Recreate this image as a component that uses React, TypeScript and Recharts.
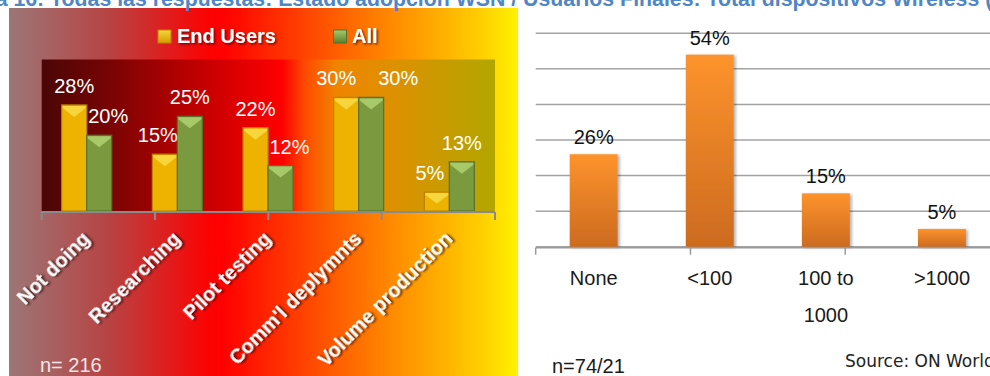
import { BarChart, Bar, XAxis, YAxis, CartesianGrid, LabelList } from "recharts";

// left chart: adoption stage, end users vs all respondents (%)
const stages = ["Not doing", "Researching", "Pilot testing", "Comm'l deplymnts", "Volume production"];
const endUsers = [28, 15, 22, 30, 5];
const allResp = [20, 25, 12, 30, 13];
const seriesNames = ["End Users", "All"];

// right chart: number of wireless devices (%)
const buckets = ["None", "<100", "100 to 1000", ">1000"];
const bucketShare = [26, 54, 15, 5];
const shareTicks = [0, 10, 20, 30, 40, 50, 60];

const FONT = '"Liberation Sans", Arial, Helvetica, sans-serif';

const adoption = stages.map((stage, i) => ({ stage, endUsers: endUsers[i], all: allResp[i] }));
const devices = buckets.map((bucket, i) => ({ bucket, share: bucketShare[i] }));
// tick marks sit between categories (Excel style), so a numeric axis gives the edges
const stageEdges = [...stages.keys(), stages.length];
const bucketEdges = [...buckets.keys(), buckets.length];

const pct = (v: any) => `${v}%`;

function BevelBar(props: any) {
  const { x, y, width, height, face, light, edge } = props;
  if (!height || height <= 0) return null;
  const b = Math.min(10, height / 2);
  return (
    <g>
      <rect x={x} y={y} width={width} height={height} fill={face} stroke={edge} strokeWidth={1.2} />
      <polygon
        points={`${x + 1},${y + 1} ${x + width - 1},${y + 1} ${x + width - 1},${y + 3} ${x + width / 2},${y + b + 2} ${x + 1},${y + 3}`}
        fill={light}
      />
    </g>
  );
}

// labels of a pair get pushed apart when they would collide (lower one moves outward)
const pairLabel = (own: number[], other: number[], side: -1 | 1) => (props: any) => {
  const box = props.viewBox ?? props;
  const i = props.index;
  const a = own[i];
  const b = other[i];
  let shift = 0;
  if (Math.abs(a - b) <= 1) shift = side < 0 ? -10 : 27;
  else if (a < b) shift = side < 0 ? -7 : 9;
  return (
    <text
      x={box.x + box.width / 2 + shift}
      y={box.y - 12}
      textAnchor="middle"
      fill="#fff"
      fontSize={20}
      fontFamily={FONT}
    >
      {pct(a)}
    </text>
  );
};

function StageTick({ x, y, payload }: any) {
  return (
    <text
      x={0}
      y={0}
      transform={`translate(${x + 4},${y + 29}) rotate(-45)`}
      textAnchor="end"
      fill="#fff"
      fontSize={20}
      fontWeight="bold"
      fontFamily={FONT}
      filter="url(#txtShadow)"
    >
      {payload.value}
    </text>
  );
}

function BucketTick({ x, y, payload }: any) {
  const words = String(payload.value).split(" ");
  const lines = words.length > 2 ? [words.slice(0, -1).join(" "), words[words.length - 1]] : [words.join(" ")];
  return (
    <text x={x} y={y + 38} textAnchor="middle" fill="#1a1a1a" fontSize={20} fontFamily={FONT}>
      {lines.map((l, i) => (
        <tspan key={i} x={x} dy={i === 0 ? 0 : 37}>
          {l}
        </tspan>
      ))}
    </text>
  );
}

export default function App() {
  return (
    <div
      style={{
        position: "absolute",
        left: 0,
        top: 0,
        width: 990,
        height: 376,
        overflow: "hidden",
        background: "#fff",
        fontFamily: FONT,
      }}
    >
      <div
        style={{
          position: "absolute",
          left: 9,
          top: 8,
          width: 509,
          height: 368,
          background:
            "linear-gradient(to right, #9c7676 0%, #b84242 20%, #fb0303 39%, #ff0000 42%, #ff5800 63%, #ff8200 73%, #ffa800 83%, #ffd000 93%, #fff200 100%)",
        }}
      >
        <BarChart
          width={509}
          height={368}
          data={adoption}
          margin={{ top: 51.5, right: 23, bottom: 163, left: 32.7 }}
          barGap={0}
        >
          <defs>
            <linearGradient id="plotBg" x1="0" y1="0" x2="1" y2="0">
              <stop offset="0" stopColor="#4a0606" />
              <stop offset="0.13" stopColor="#720404" />
              <stop offset="0.35" stopColor="#c20000" />
              <stop offset="0.53" stopColor="#ff0000" />
              <stop offset="0.58" stopColor="#ff4a00" />
              <stop offset="0.65" stopColor="#f08400" />
              <stop offset="0.8" stopColor="#d99300" />
              <stop offset="1" stopColor="#b2a600" />
            </linearGradient>
            <filter id="txtShadow" x="-20%" y="-40%" width="140%" height="180%">
              <feDropShadow dx="1.5" dy="1.8" stdDeviation="1.1" floodColor="#2a0000" floodOpacity="0.8" />
            </filter>
          </defs>
          <CartesianGrid fill="url(#plotBg)" horizontal={false} vertical={false} stroke="none" />
          <XAxis
            xAxisId="edge"
            type="number"
            domain={[0, stages.length]}
            ticks={stageEdges}
            allowDataOverflow
            height={1}
            tickSize={8}
            tickFormatter={() => ""}
            axisLine={{ stroke: "#8a8a8a", strokeWidth: 2 }}
            tickLine={{ stroke: "#8a8a8a", strokeWidth: 2 }}
          />
          <XAxis
            dataKey="stage"
            height={1}
            interval={0}
            axisLine={false}
            tickLine={false}
            tickSize={0}
            tickMargin={0}
            tick={<StageTick />}
          />
          <YAxis hide domain={[0, 40]} />
          <Bar
            dataKey="endUsers"
            name={seriesNames[0]}
            barSize={25}
            isAnimationActive={false}
            shape={(p: any) => <BevelBar {...p} face="#eeb200" light="#f7d53c" edge="#b98400" />}
          >
            <LabelList dataKey="endUsers" content={pairLabel(endUsers, allResp, -1)} />
          </Bar>
          <Bar
            dataKey="all"
            name={seriesNames[1]}
            barSize={25}
            isAnimationActive={false}
            shape={(p: any) => <BevelBar {...p} face="#7b9a3f" light="#a8c96a" edge="#55722a" />}
          >
            <LabelList dataKey="all" content={pairLabel(allResp, endUsers, 1)} />
          </Bar>
        </BarChart>
      </div>

      <div style={{ position: "absolute", left: 520, top: 0 }}>
        <BarChart
          width={490}
          height={376}
          data={devices}
          margin={{ top: 33.3, right: 10, bottom: 127.3, left: 15.7 }}
        >
          <defs>
            <linearGradient id="orangeBar" x1="0" y1="0" x2="0" y2="1">
              <stop offset="0" stopColor="#fd932d" />
              <stop offset="1" stopColor="#cd6b1f" />
            </linearGradient>
            <filter id="barShadow" x="-20%" y="-10%" width="150%" height="130%">
              <feDropShadow dx="2" dy="1" stdDeviation="1.5" floodColor="#000" floodOpacity="0.3" />
            </filter>
          </defs>
          <CartesianGrid
            horizontal
            vertical={false}
            horizontalValues={shareTicks}
            stroke="#a3a3a3"
            strokeWidth={1.5}
          />
          <XAxis
            xAxisId="edge"
            type="number"
            domain={[0, buckets.length]}
            ticks={bucketEdges}
            allowDataOverflow
            height={1}
            tickSize={7}
            tickFormatter={() => ""}
            axisLine={{ stroke: "#9a9a9a", strokeWidth: 1.5 }}
            tickLine={{ stroke: "#9a9a9a", strokeWidth: 1.5 }}
          />
          <XAxis
            dataKey="bucket"
            height={1}
            interval={0}
            axisLine={false}
            tickLine={false}
            tickSize={0}
            tickMargin={0}
            tick={<BucketTick />}
          />
          <YAxis hide domain={[0, 60]} ticks={shareTicks} />
          <Bar
            dataKey="share"
            barSize={48}
            isAnimationActive={false}
            shape={(p: any) => (
              <rect x={p.x} y={p.y} width={p.width} height={p.height} fill="url(#orangeBar)" filter="url(#barShadow)" />
            )}
          >
            <LabelList dataKey="share" position="top" offset={10} fill="#111" fontSize={20} fontFamily={FONT} formatter={pct} />
          </Bar>
        </BarChart>
      </div>

      <svg width={990} height={376} style={{ position: "absolute", left: 0, top: 0, pointerEvents: "none" }}>
        <defs>
          <linearGradient id="keyYellow" x1="0" y1="0" x2="0" y2="1">
            <stop offset="0" stopColor="#f7d53c" />
            <stop offset="1" stopColor="#d89a00" />
          </linearGradient>
          <linearGradient id="keyGreen" x1="0" y1="0" x2="0" y2="1">
            <stop offset="0" stopColor="#a8c96a" />
            <stop offset="1" stopColor="#5f7e2e" />
          </linearGradient>
          <filter id="keyShadow" x="-20%" y="-40%" width="140%" height="180%">
            <feDropShadow dx="1.5" dy="1.5" stdDeviation="1" floodColor="#3a0000" floodOpacity="0.7" />
          </filter>
        </defs>
        <text x={-57.6} y={6} fill="#4f86c6" fontSize={21.3} fontWeight="bold" fontFamily={FONT}>
          Figura 16: Todas las respuestas: Estado adopción WSN / Usuarios Finales: Total dispositivos Wireless (
        </text>
        <rect x={158} y={30} width={13} height={13} fill="url(#keyYellow)" stroke="#b98400" />
        <text x={177} y={43} fill="#fff" fontSize={20} fontWeight="bold" fontFamily={FONT} filter="url(#keyShadow)">
          {seriesNames[0]}
        </text>
        <rect x={333.5} y={30} width={13} height={13} fill="url(#keyGreen)" stroke="#55722a" />
        <text x={352} y={43} fill="#fff" fontSize={20} fontWeight="bold" fontFamily={FONT} filter="url(#keyShadow)">
          {seriesNames[1]}
        </text>
        <text x={40} y={372} fill="#f3e6e6" fontSize={20} fontFamily={FONT}>
          n= 216
        </text>
        <text x={552} y={373} fill="#1a1a1a" fontSize={20} fontFamily={FONT}>
          n=74/21
        </text>
        <text x={845} y={366.5} fill="#222" fontSize={17} fontFamily='"DejaVu Sans", Verdana, sans-serif'>
          Source: ON World
        </text>
      </svg>
    </div>
  );
}
